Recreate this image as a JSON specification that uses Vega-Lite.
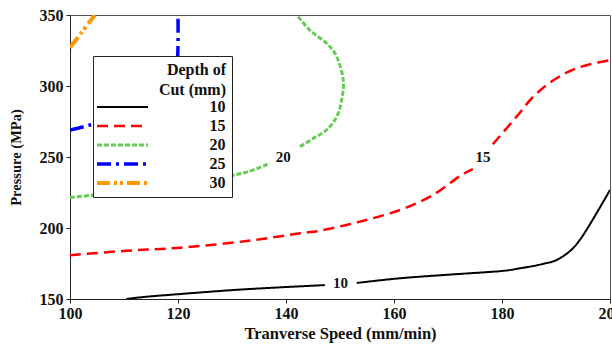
{
  "$schema": "https://vega.github.io/schema/vega-lite/v6.json",
  "width": 540,
  "height": 284,
  "autosize": "none",
  "padding": {"left": 70, "top": 15, "right": 2, "bottom": 48},
  "background": "white",
  "config": {
    "view": {"stroke": "#555", "strokeWidth": 1},
    "axis": {
      "grid": false,
      "domainColor": "#222",
      "tickColor": "#222",
      "tickSize": 4,
      "labelFont": "Liberation Serif",
      "labelFontWeight": "bold",
      "labelFontSize": 16,
      "labelColor": "#111",
      "titleFont": "Liberation Serif",
      "titleFontWeight": "bold",
      "titleColor": "#111"
    },
    "legend": {
      "zindex": 1
    }
  },
  "datasets": {
    "curves": [
      {"d": "10", "s": "10a", "o": 1, "x": 110.4, "y": 150},
      {"d": "10", "s": "10a", "o": 2, "x": 114.2, "y": 151.6},
      {"d": "10", "s": "10a", "o": 3, "x": 120.4, "y": 153.5},
      {"d": "10", "s": "10a", "o": 4, "x": 130.2, "y": 156.3},
      {"d": "10", "s": "10a", "o": 5, "x": 138.9, "y": 158.2},
      {"d": "10", "s": "10a", "o": 6, "x": 147.2, "y": 159.8},
      {"d": "10", "s": "10b", "o": 7, "x": 153.1, "y": 161.3},
      {"d": "10", "s": "10b", "o": 8, "x": 161.1, "y": 164.6},
      {"d": "10", "s": "10b", "o": 9, "x": 170.4, "y": 167.2},
      {"d": "10", "s": "10b", "o": 10, "x": 179.6, "y": 169.6},
      {"d": "10", "s": "10b", "o": 11, "x": 183.3, "y": 171.6},
      {"d": "10", "s": "10b", "o": 12, "x": 187.2, "y": 174.4},
      {"d": "10", "s": "10b", "o": 13, "x": 190.7, "y": 178.7},
      {"d": "10", "s": "10b", "o": 14, "x": 194.4, "y": 191.5},
      {"d": "10", "s": "10b", "o": 15, "x": 200, "y": 226.8},
      {"d": "15", "s": "15a", "o": 1, "x": 100, "y": 180.8},
      {"d": "15", "s": "15a", "o": 2, "x": 110.5, "y": 184},
      {"d": "15", "s": "15a", "o": 3, "x": 120.4, "y": 186.1},
      {"d": "15", "s": "15a", "o": 4, "x": 132.7, "y": 190.8},
      {"d": "15", "s": "15a", "o": 5, "x": 142.6, "y": 196.3},
      {"d": "15", "s": "15a", "o": 6, "x": 146.3, "y": 198.1},
      {"d": "15", "s": "15a", "o": 7, "x": 153.7, "y": 204.5},
      {"d": "15", "s": "15a", "o": 8, "x": 161.1, "y": 212.7},
      {"d": "15", "s": "15a", "o": 9, "x": 167.2, "y": 223.2},
      {"d": "15", "s": "15a", "o": 10, "x": 172.2, "y": 236.6},
      {"d": "15", "s": "15a", "o": 11, "x": 174.6, "y": 241.5},
      {"d": "15", "s": "15b", "o": 12, "x": 178.3, "y": 259},
      {"d": "15", "s": "15b", "o": 13, "x": 182.7, "y": 278.4},
      {"d": "15", "s": "15b", "o": 14, "x": 185.8, "y": 292.5},
      {"d": "15", "s": "15b", "o": 15, "x": 189.5, "y": 304},
      {"d": "15", "s": "15b", "o": 16, "x": 193.8, "y": 312.5},
      {"d": "15", "s": "15b", "o": 17, "x": 199.4, "y": 317.8},
      {"d": "15", "s": "15b", "o": 18, "x": 200, "y": 318},
      {"d": "20", "s": "20a", "o": 1, "x": 100, "y": 221.5},
      {"d": "20", "s": "20a", "o": 2, "x": 104, "y": 223},
      {"d": "20", "s": "20a", "o": 3, "x": 110, "y": 225.5},
      {"d": "20", "s": "20a", "o": 4, "x": 120, "y": 230.5},
      {"d": "20", "s": "20a", "o": 5, "x": 128, "y": 235.5},
      {"d": "20", "s": "20a", "o": 6, "x": 133, "y": 239.7},
      {"d": "20", "s": "20a", "o": 7, "x": 137, "y": 245.6},
      {"d": "20", "s": "20b", "o": 8, "x": 142.6, "y": 257.3},
      {"d": "20", "s": "20b", "o": 9, "x": 145.1, "y": 263.2},
      {"d": "20", "s": "20b", "o": 10, "x": 147.5, "y": 269},
      {"d": "20", "s": "20b", "o": 11, "x": 149.4, "y": 278.4},
      {"d": "20", "s": "20b", "o": 12, "x": 150.3, "y": 290.1},
      {"d": "20", "s": "20b", "o": 13, "x": 150.6, "y": 304.2},
      {"d": "20", "s": "20b", "o": 14, "x": 149.4, "y": 320.6},
      {"d": "20", "s": "20b", "o": 15, "x": 147.5, "y": 330.1},
      {"d": "20", "s": "20b", "o": 16, "x": 144.4, "y": 339.4},
      {"d": "20", "s": "20b", "o": 17, "x": 142, "y": 350},
      {"d": "25", "s": "25a", "o": 1, "x": 100, "y": 269},
      {"d": "25", "s": "25a", "o": 2, "x": 103.7, "y": 272.5},
      {"d": "25", "s": "25a", "o": 3, "x": 110, "y": 280},
      {"d": "25", "s": "25a", "o": 4, "x": 115, "y": 292},
      {"d": "25", "s": "25a", "o": 5, "x": 118.5, "y": 306},
      {"d": "25", "s": "25a", "o": 6, "x": 119.8, "y": 318},
      {"d": "25", "s": "25a", "o": 7, "x": 120, "y": 330},
      {"d": "25", "s": "25a", "o": 8, "x": 120, "y": 350},
      {"d": "30", "s": "30a", "o": 1, "x": 100, "y": 327},
      {"d": "30", "s": "30a", "o": 2, "x": 102, "y": 337},
      {"d": "30", "s": "30a", "o": 3, "x": 104.6, "y": 350}
    ],
    "labels": [
      {"t": "10", "x": 150.1, "y": 161},
      {"t": "15", "x": 176.5, "y": 250},
      {"t": "20", "x": 139.5, "y": 250.2}
    ]
  },
  "layer": [
    {
      "data": {"name": "curves"},
      "mark": {"type": "line", "clip": true, "strokeCap": "butt", "interpolate": "cardinal"},
      "encoding": {
        "x": {
          "field": "x", "type": "quantitative",
          "scale": {"domain": [100, 200], "nice": false, "zero": false},
          "axis": {"values": [100, 120, 140, 160, 180, 200], "title": "Tranverse Speed (mm/min)", "titleFontSize": 16.5, "labelPadding": 2, "titlePadding": 4, "labelOverlap": false, "labelBound": false, "labelFlush": false}
        },
        "y": {
          "field": "y", "type": "quantitative",
          "scale": {"domain": [150, 350], "nice": false, "zero": false},
          "axis": {"values": [150, 200, 250, 300, 350], "title": "Pressure (MPa)", "titleFontSize": 14.5, "labelPadding": 3, "titlePadding": 16, "labelOverlap": false, "labelBound": false, "labelFlush": false}
        },
        "color": {
          "field": "d", "type": "nominal",
          "scale": {"domain": ["10", "15", "20", "25", "30"], "range": ["#000000", "#FF0000", "#66CC55", "#0000FF", "#FF9900"]},
          "legend": {
            "title": ["Depth of\u00a0\u00a0\u00a0", "Cut (mm)\u00a0\u00a0\u00a0"],
            "orient": "none",
            "legendX": 23,
            "legendY": 41,
            "fillColor": "white",
            "strokeColor": "#222",
            "padding": 6,
            "titleFont": "Liberation Serif",
            "titleFontWeight": "bold",
            "titleFontSize": 16,
            "titleColor": "#111",
            "titleAlign": "right",
            "titleAnchor": "end",
            "titleLineHeight": 20,
            "titlePadding": 1,
            "labelFont": "Liberation Serif",
            "labelFontWeight": "bold",
            "labelFontSize": 16,
            "labelColor": "#111",
            "labelAlign": "right",
            "labelOffset": 95,
            "symbolType": "M-5.1,0H5.1",
            "symbolSize": 100,
            "symbolOffset": 15.5,
            "rowPadding": 3,
            "zindex": 1
          }
        },
        "strokeDash": {
          "field": "d", "type": "nominal",
          "scale": {"domain": ["10", "15", "20", "25", "30"], "range": [[1, 0], [11, 6], [5, 2], [14, 5, 3, 5], [13, 4, 3, 3, 3, 4]]}
        },
        "strokeWidth": {
          "field": "d", "type": "nominal",
          "scale": {"domain": ["10", "15", "20", "25", "30"], "range": [2, 4, 4, 4, 4]}
        },
        "detail": {"field": "s", "type": "nominal"},
        "order": {"field": "o", "type": "quantitative"}
      }
    },
    {
      "data": {"name": "labels"},
      "mark": {"type": "text", "font": "Liberation Serif", "fontWeight": "bold", "fontSize": 15, "color": "#111"},
      "encoding": {
        "x": {"field": "x", "type": "quantitative"},
        "y": {"field": "y", "type": "quantitative"},
        "text": {"field": "t", "type": "nominal"}
      }
    }
  ]
}
